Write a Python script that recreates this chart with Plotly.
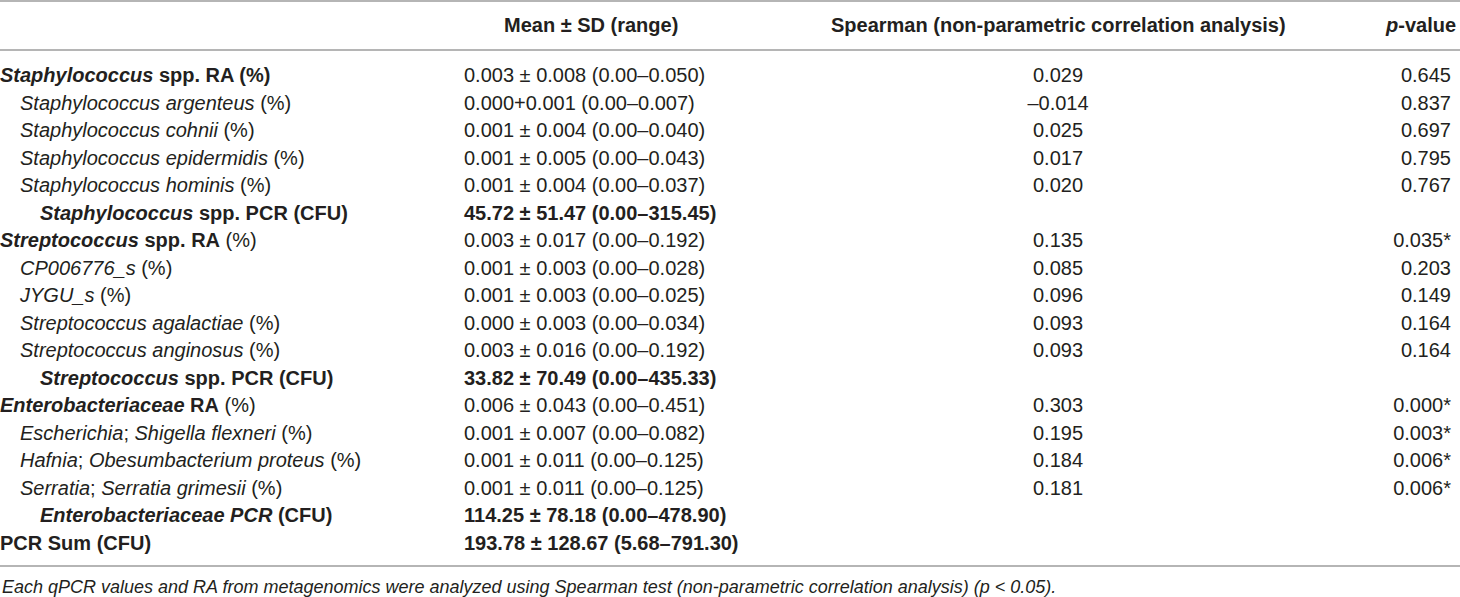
import plotly.graph_objects as go

# 행 라벨 (HTML 서식 포함)
labels = [
    "<b><i>Staphylococcus</i> spp. RA (%)</b>",
    "<i>Staphylococcus argenteus</i> (%)",
    "<i>Staphylococcus cohnii</i> (%)",
    "<i>Staphylococcus epidermidis</i> (%)",
    "<i>Staphylococcus hominis</i> (%)",
    "<b><i>Staphylococcus</i> spp. PCR (CFU)</b>",
    "<b><i>Streptococcus</i> spp. RA</b> (%)",
    "<i>CP006776_s</i> (%)",
    "<i>JYGU_s</i> (%)",
    "<i>Streptococcus agalactiae</i> (%)",
    "<i>Streptococcus anginosus</i> (%)",
    "<b><i>Streptococcus</i> spp. PCR (CFU)</b>",
    "<b><i>Enterobacteriaceae</i> RA</b> (%)",
    "<i>Escherichia</i>; <i>Shigella flexneri</i> (%)",
    "<i>Hafnia</i>; <i>Obesumbacterium proteus</i> (%)",
    "<i>Serratia</i>; <i>Serratia grimesii</i> (%)",
    "<b><i>Enterobacteriaceae PCR</i> (CFU)</b>",
    "<b>PCR Sum (CFU)</b>",
]
levels = [0, 1, 1, 1, 1, 2, 0, 1, 1, 1, 1, 2, 0, 1, 1, 1, 2, 0]

mean_sd = [
    "0.003 ± 0.008 (0.00–0.050)",
    "0.000+0.001 (0.00–0.007)",
    "0.001 ± 0.004 (0.00–0.040)",
    "0.001 ± 0.005 (0.00–0.043)",
    "0.001 ± 0.004 (0.00–0.037)",
    "<b>45.72 ± 51.47 (0.00–315.45)</b>",
    "0.003 ± 0.017 (0.00–0.192)",
    "0.001 ± 0.003 (0.00–0.028)",
    "0.001 ± 0.003 (0.00–0.025)",
    "0.000 ± 0.003 (0.00–0.034)",
    "0.003 ± 0.016 (0.00–0.192)",
    "<b>33.82 ± 70.49 (0.00–435.33)</b>",
    "0.006 ± 0.043 (0.00–0.451)",
    "0.001 ± 0.007 (0.00–0.082)",
    "0.001 ± 0.011 (0.00–0.125)",
    "0.001 ± 0.011 (0.00–0.125)",
    "<b>114.25 ± 78.18 (0.00–478.90)</b>",
    "<b>193.78 ± 128.67 (5.68–791.30)</b>",
]
spearman = ["0.029", "–0.014", "0.025", "0.017", "0.020", "",
            "0.135", "0.085", "0.096", "0.093", "0.093", "",
            "0.303", "0.195", "0.184", "0.181", "", ""]
p_values = ["0.645", "0.837", "0.697", "0.795", "0.767", "",
            "0.035*", "0.203", "0.149", "0.164", "0.164", "",
            "0.000*", "0.003*", "0.006*", "0.006*", "", ""]

headers = ["Mean ± SD (range)",
           "Spearman (non-parametric correlation analysis)",
           "<i>p</i>-value"]
footnote = ("Each qPCR values and RA from metagenomics were analyzed using "
            "Spearman test (non-parametric correlation analysis) (p < 0.05).")

# 레이아웃 상수
W, H = 1460, 597
ROW0, ROW_H = 77, 27.5
FONT = "Liberation Sans, Arial, sans-serif"
TXT = "#231f20"
LINE = "#9d9d9d"
indent_x = [0, 20, 40]

rows = list(range(len(labels)))
fig = go.Figure()

# 첫 번째 열 (들여쓰기 수준별)
for lv in range(3):
    idx = [i for i in rows if levels[i] == lv]
    fig.add_trace(go.Scatter(
        x=[indent_x[lv]] * len(idx), y=idx,
        text=[labels[i] for i in idx],
        mode="text", textposition="middle right",
        textfont=dict(family=FONT, size=20, color=TXT),
        hoverinfo="skip", showlegend=False))

fig.add_trace(go.Scatter(
    x=[464] * len(rows), y=rows, text=mean_sd,
    mode="text", textposition="middle right",
    textfont=dict(family=FONT, size=20, color=TXT),
    hoverinfo="skip", showlegend=False))
fig.add_trace(go.Scatter(
    x=[1058] * len(rows), y=rows, text=spearman,
    mode="text", textposition="middle center",
    textfont=dict(family=FONT, size=20, color=TXT),
    hoverinfo="skip", showlegend=False))
fig.add_trace(go.Scatter(
    x=[1451] * len(rows), y=rows, text=p_values,
    mode="text", textposition="middle left",
    textfont=dict(family=FONT, size=20, color=TXT),
    hoverinfo="skip", showlegend=False))

# 헤더
hy = 1 - 25 / H
for txt, x, anc in zip(headers, [591, 1058, 1458], ["center", "center", "right"]):
    fig.add_annotation(x=x, y=hy, xref="x", yref="paper", text="<b>" + txt + "</b>",
                       showarrow=False, xanchor=anc, yanchor="middle",
                       font=dict(family=FONT, size=20, color=TXT))

fig.add_annotation(x=0, y=1 - 587 / H, xref="x", yref="paper",
                   text="<i>" + footnote + "</i>", showarrow=False,
                   xanchor="left", yanchor="middle",
                   font=dict(family=FONT, size=18, color=TXT))

# 가로줄
for py in [1, 50, 566]:
    fig.add_shape(type="line", xref="paper", yref="paper", x0=0, x1=1,
                  y0=1 - py / H, y1=1 - py / H, line=dict(color=LINE, width=1.5))

fig.update_layout(
    width=W, height=H, margin=dict(l=0, r=0, t=0, b=0),
    paper_bgcolor="white", plot_bgcolor="white",
    xaxis=dict(range=[0, W], visible=False, fixedrange=True),
    yaxis=dict(range=[(H - ROW0) / ROW_H, -ROW0 / ROW_H], visible=False, fixedrange=True),
)

# 페이지 기본 여백 제거
fig.write_html("out.html", config={"displayModeBar": False},
               post_script="document.body.style.margin='0';")
